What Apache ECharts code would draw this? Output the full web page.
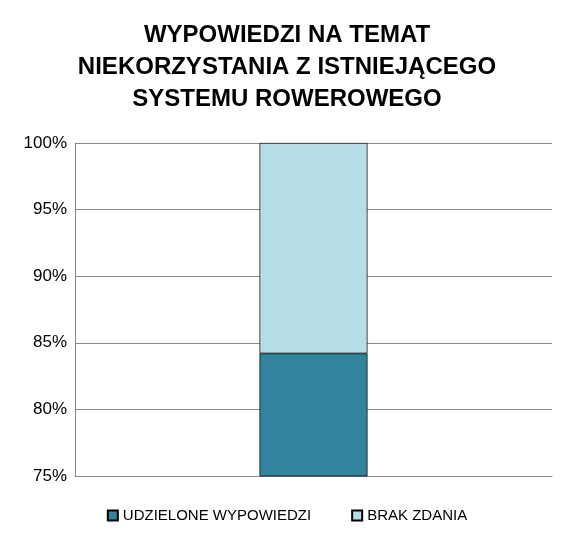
<!DOCTYPE html>
<html><head><meta charset="utf-8">
<script src="https://cdn.jsdelivr.net/npm/echarts@6/dist/echarts.min.js"></script>
<style>html,body{margin:0;padding:0;background:#fff}#c{width:574px;height:548px}</style>
</head><body><div id="c"></div>
<script>
const categories = [''];
const seriesNames = ['UDZIELONE WYPOWIEDZI', 'BRAK ZDANIA'];
const answered = [84.2];
const noOpinion = [15.8];
const titleText = 'WYPOWIEDZI NA TEMAT\nNIEKORZYSTANIA Z ISTNIEJĄCEGO\nSYSTEMU ROWEROWEGO';
const font = '"Liberation Sans Narrow","Arial Narrow","Liberation Sans",sans-serif';
const chart = echarts.init(document.getElementById('c'));
chart.setOption({
  animation: false,
  title: {text: titleText, left: 'center', top: 14,
    textStyle: {fontFamily: font, fontWeight: 'bold', fontSize: 24, lineHeight: 32, color: '#000'}},
  grid: {left: 75, right: 22, top: 143, bottom: 72},
  legend: {bottom: 20, left: 'center', itemWidth: 10, itemHeight: 10, itemGap: 40, icon: 'rect',
    textStyle: {fontFamily: font, fontSize: 15, color: '#000'}},
  xAxis: {type: 'category', data: categories, axisTick: {show: false},
    axisLine: {lineStyle: {color: '#888'}}, axisLabel: {show: false}},
  yAxis: {type: 'value', min: 75, max: 100, interval: 5,
    axisLine: {show: true, lineStyle: {color: '#888'}}, axisTick: {show: false},
    splitLine: {lineStyle: {color: '#888'}},
    axisLabel: {formatter: '{value}%', fontFamily: font, fontSize: 17, color: '#000', margin: 8}},
  series: [
    {name: seriesNames[0], type: 'bar', stack: 's', data: answered, barWidth: 108,
      itemStyle: {color: '#31849b', borderColor: '#000', borderWidth: 0.7}},
    {name: seriesNames[1], type: 'bar', stack: 's', data: noOpinion, barWidth: 108,
      itemStyle: {color: '#b7dde8', borderColor: '#000', borderWidth: 0.7}}
  ]
});
</script></body></html>
